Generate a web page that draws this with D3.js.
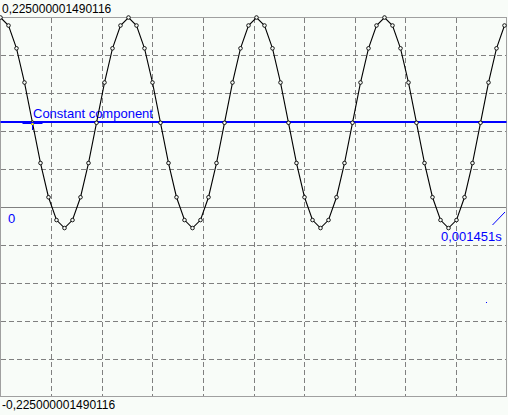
<!DOCTYPE html>
<html>
<head>
<meta charset="utf-8">
<script src="https://d3js.org/d3.v7.min.js"></script>
<style>
body { margin:0; background:#f8fcf8; }
svg { display:block; font-family:"Liberation Sans", Arial, sans-serif; }
</style>
</head>
<body>
<div id="chart"></div>
<script>
// samples (44100 Hz, 64 samples)
var samples = [
 0.225, 0.2155, 0.1884, 0.1478, 0.1, 0.0522, 0.0116, -0.0155, -0.025, -0.0155, 0.0116, 0.0522, 0.1, 0.1478, 0.1884, 0.2155,
 0.225, 0.2155, 0.1884, 0.1478, 0.1, 0.0522, 0.0116, -0.0155, -0.025, -0.0155, 0.0116, 0.0522, 0.1, 0.1478, 0.1884, 0.2155,
 0.225, 0.2155, 0.1884, 0.1478, 0.1, 0.0522, 0.0116, -0.0155, -0.025, -0.0155, 0.0116, 0.0522, 0.1, 0.1478, 0.1884, 0.2155,
 0.225, 0.2155, 0.1884, 0.1478, 0.1, 0.0522, 0.0116, -0.0155, -0.025, -0.0155, 0.0116, 0.0522, 0.1, 0.1478, 0.1884, 0.2155
];
var constantComponent = 0.1015;
var markerIndex = 4;
var yMax = 0.225000001490116, yMin = -0.225000001490116;
var yMaxLabel = "0,225000001490116", yMinLabel = "-0,225000001490116";
var endLabel = "0,001451s";
var startLabel = "0";
var constLabel = "Constant component";

var W = 508, H = 415;
var pLeft = 0.5, pRight = 506.5, pTop = 17.5, pBottom = 396.5;

var svg = d3.select("#chart").append("svg")
	.attr("width", W).attr("height", H)
	.style("background", "#f8fcf8");

// sample index -> px (63.25 samples fit the plot width)
var x = d3.scaleLinear().domain([0, 63.25]).range([pLeft, pRight]);
var y = d3.scaleLinear().domain([yMin, yMax]).range([pBottom, pTop]);

var gridX = d3.scaleLinear().domain([0, 10]).range([pLeft, pRight]);
var gridY = d3.scaleLinear().domain([0, 10]).range([pTop, pBottom]);

var grid = svg.append("g").style("shape-rendering", "crispEdges");
d3.range(1, 10).forEach(function(k){
	var gx = Math.round(gridX(k)) + 0.5;
	grid.append("line")
		.attr("x1", gx).attr("x2", gx).attr("y1", pTop).attr("y2", pBottom)
		.style("stroke", "#808080").style("stroke-dasharray", "5,3");
	var gy = Math.round(gridY(k)) + 0.5;
	grid.append("line")
		.attr("x1", pLeft).attr("x2", pRight).attr("y1", gy).attr("y2", gy)
		.style("stroke", "#808080")
		.style("stroke-dasharray", k == 5 ? null : "5,3");
});

svg.append("rect")
	.attr("x", pLeft).attr("y", pTop)
	.attr("width", pRight - pLeft).attr("height", pBottom - pTop)
	.style("fill", "none").style("stroke", "#a0a0a0")
	.style("shape-rendering", "crispEdges");

// constant component
var cy = Math.round(y(constantComponent));
svg.append("line")
	.attr("x1", pLeft).attr("x2", pRight).attr("y1", cy).attr("y2", cy)
	.style("stroke", "#0000ff").style("stroke-width", "2px");

svg.append("text")
	.attr("x", 33).attr("y", cy - 4)
	.style("font-size", "13px").style("fill", "#0000ff")
	.text(constLabel);

var line = d3.line()
	.x(function(d, i){ return x(i); })
	.y(function(d){ return y(d); });

svg.append("path")
	.datum(samples)
	.attr("d", line)
	.style("fill", "none").style("stroke", "#000").style("stroke-width", "1.1px");

svg.selectAll(".pt")
	.data(samples)
	.enter().append("circle")
	.attr("class", "pt")
	.attr("cx", function(d, i){ return x(i); })
	.attr("cy", function(d){ return y(d); })
	.attr("r", 1.8)
	.style("fill", "#f8fcf8").style("stroke", "#000").style("stroke-width", "0.9px");

// cursor marker on the constant component
var mx = x(markerIndex);
svg.append("line")
	.attr("x1", mx - 10).attr("x2", mx + 10).attr("y1", cy + 1).attr("y2", cy + 1)
	.style("stroke", "#0000ff").style("stroke-width", "2px");
svg.append("line")
	.attr("x1", mx).attr("x2", mx).attr("y1", cy).attr("y2", cy + 8)
	.style("stroke", "#0000ff").style("stroke-width", "1px");
svg.append("rect")
	.attr("x", mx - 1).attr("y", cy + 1).attr("width", 2).attr("height", 2)
	.style("fill", "#ffff00");

// labels
svg.append("text")
	.attr("x", 2).attr("y", 13)
	.style("font-size", "12px").style("fill", "#000")
	.text(yMaxLabel);
svg.append("text")
	.attr("x", 2).attr("y", 409)
	.style("font-size", "12px").style("fill", "#000")
	.text(yMinLabel);

var zy = y(0);
svg.append("text")
	.attr("x", 8).attr("y", zy + 16)
	.style("font-size", "13px").style("fill", "#0000ff")
	.text(startLabel);
svg.append("text")
	.attr("x", 441).attr("y", zy + 34)
	.style("font-size", "13px").style("fill", "#0000ff")
	.text(endLabel);
svg.append("line")
	.attr("x1", 492.5).attr("y1", zy + 18).attr("x2", 505).attr("y2", zy + 5)
	.style("stroke", "#0000ff").style("stroke-width", "1px");
svg.append("rect")
	.attr("x", 486).attr("y", 302).attr("width", 1).attr("height", 1)
	.style("fill", "#0000ff");
</script>
</body>
</html>
